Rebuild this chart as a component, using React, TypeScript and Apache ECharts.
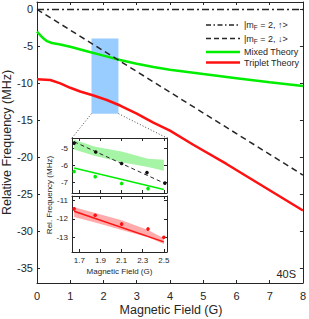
import React, { useEffect, useRef } from "react";
import * as echarts from "echarts";

// ---------- data ----------
const mainXTicks = [0, 1, 2, 3, 4, 5, 6, 7, 8];
const mainYTicks = [-35, -30, -25, -20, -15, -10, -5, 0];

const upX = [0, 8];
const upY = [0, 0];
const downX = [0, 8];
const downY = [0, -22.4];

const mixedX = [0, 0.1, 0.2, 0.3, 0.45, 0.7, 1.0, 1.5, 2.0, 2.5, 3.0, 3.5, 4, 5, 6, 7, 8];
const mixedY = [-3.0, -3.5, -3.95, -4.3, -4.55, -4.75, -5.05, -5.65, -6.25, -6.85, -7.35, -7.8, -8.15, -8.75, -9.3, -9.85, -10.35];

const tripletX = [0, 0.4, 0.7, 1.0, 1.3, 1.7, 2.1, 2.5, 3.0, 3.5, 4.0, 4.7, 5.7, 8];
const tripletY = [-9.45, -9.55, -10.0, -10.6, -11.1, -11.65, -12.25, -13.0, -14.1, -15.3, -16.4, -18.3, -20.9, -27.2];

const zoomBoxX = [1.64, 2.45];
const zoomBoxY = [-14.1, -3.95];

const insetXTicks = [1.7, 1.9, 2.1, 2.3, 2.5];
const insetTopYTicks = [-7, -6, -5];
const insetBotYTicks = [-13, -12, -11];

// inset top
const bandGX = [1.65, 1.85, 2.1, 2.35, 2.5];
const bandGUp = [-4.5, -4.92, -5.2, -5.62, -5.68];
const bandGLo = [-5.08, -5.45, -5.82, -6.1, -6.32];

const fitGX = [1.65, 2.5];
const fitGY = [-6.16, -7.43];

const ptsGX = [1.65, 1.85, 2.1, 2.35];
const ptsGY = [-6.37, -6.67, -7.07, -7.37];
const ptsGErr = [0.1, 0.09, 0.1, 0.1];

const dashInX = [1.65, 2.52];
const dashInY = [-4.62, -7.1];

const ptsKX = [1.65, 1.855, 2.1, 2.34, 2.51];
const ptsKY = [-4.7, -5.22, -5.9, -6.43, -7.05];

// inset bottom
const bandRX = [1.65, 1.85, 2.1, 2.35, 2.5];
const bandRUp = [-11.36, -11.68, -12.07, -12.6, -13.05];
const bandRLo = [-11.9, -12.2, -12.6, -13.0, -13.37];

const fitRX = [1.65, 2.5];
const fitRY = [-11.58, -13.25];

const ptsRX = [1.65, 1.85, 2.1, 2.35, 2.5];
const ptsRY = [-11.45, -11.8, -12.28, -12.55, -13.0];
const ptsRErr = [0.1, 0.08, 0.1, 0.1, 0.06];

// ---------- style ----------
const AX = "#262626";
const FONT = "Liberation Sans, Arial, sans-serif";
const GREEN = "#00ee00";
const RED = "#ff1111";

const zip = (xs: number[], ys: number[]) => xs.map((x, i) => [x, ys[i]]);

function axis(opts: any) {
  const { gridIndex, position, min, max, ticks, labels, fontSize, margin, z, fmt } = opts;
  return {
    type: "value",
    gridIndex,
    position,
    min,
    max,
    z: z || 0,
    axisLine: { show: true, onZero: false, lineStyle: { color: AX, width: 1 } },
    axisTick: { show: true, inside: true, length: 3, customValues: ticks, lineStyle: { color: AX, width: 1 } },
    axisLabel: {
      show: !!labels,
      customValues: ticks,
      fontSize: fontSize || 11,
      color: AX,
      fontFamily: FONT,
      margin: margin ?? 6,
      formatter: fmt,
    },
    splitLine: { show: false },
  };
}

function bandSeries(xi: number, yi: number, xs: number[], up: number[], lo: number[], color: string) {
  return {
    type: "custom",
    xAxisIndex: xi,
    yAxisIndex: yi,
    z: 7,
    silent: true,
    data: xs.map((x, i) => [x, up[i], lo[i]]),
    encode: { x: 0, y: 1 },
    renderItem: (params: any, api: any) => {
      if (params.dataIndex !== 0) return null;
      const pts: number[][] = [];
      xs.forEach((x, i) => pts.push(api.coord([x, up[i]])));
      for (let i = xs.length - 1; i >= 0; i--) pts.push(api.coord([xs[i], lo[i]]));
      return { type: "polygon", shape: { points: pts }, style: { fill: color } };
    },
  };
}

function errSeries(xi: number, yi: number, xs: number[], ys: number[], es: number[], color: string) {
  return {
    type: "custom",
    xAxisIndex: xi,
    yAxisIndex: yi,
    z: 9,
    silent: true,
    data: xs.map((x, i) => [x, ys[i], es[i]]),
    encode: { x: 0, y: 1 },
    renderItem: (params: any, api: any) => {
      const x = api.value(0), y = api.value(1), e = api.value(2);
      const p = api.coord([x, y]);
      const a = api.coord([x, y + e]);
      const b = api.coord([x, y - e]);
      return {
        type: "group",
        children: [
          { type: "line", shape: { x1: a[0], y1: a[1], x2: b[0], y2: b[1] }, style: { stroke: color, lineWidth: 1 } },
          { type: "circle", shape: { cx: p[0], cy: p[1], r: 1.8 }, style: { fill: color } },
        ],
      };
    },
  };
}

function lineSeries(xi: number, yi: number, data: number[][], color: string, width: number, dash: any, z: number, extra?: any) {
  return {
    type: "line",
    xAxisIndex: xi,
    yAxisIndex: yi,
    data,
    z,
    smooth: false,
    showSymbol: false,
    symbol: "none",
    silent: true,
    lineStyle: { color, width, type: dash || "solid" },
    ...(extra || {}),
  };
}

export default function App() {
  const ref = useRef<HTMLDivElement>(null);
  useEffect(() => {
    if (!ref.current) return;
    const chart = echarts.init(ref.current, undefined, { renderer: "svg" });

    const insetXMin = 1.63, insetXMax = 2.53;
    const topYMin = -7.63, topYMax = -4.4;
    const botYMin = -13.8, botYMax = -10.75;

    const fmt1 = (v: number) => v.toFixed(1);

    const legendRows = [
      { y: 25, dash: [5, 2.5, 1.5, 2.5], color: AX, w: 1.5, rich: true, text: "|m{s|F} = 2, ↑>" },
      { y: 38.5, dash: [5, 3], color: AX, w: 1.5, rich: true, text: "|m{s|F} = 2, ↓>" },
      { y: 52, dash: null, color: GREEN, w: 2.5, rich: false, text: "Mixed Theory" },
      { y: 62.5, dash: null, color: RED, w: 2.5, rich: false, text: "Triplet Theory" },
    ];

    const legendGraphics: any[] = [];
    legendRows.forEach((r, i) => {
      legendGraphics.push({
        type: "line",
        id: "lgl" + i,
        z: 20,
        shape: { x1: 206, y1: r.y, x2: 240, y2: r.y },
        style: { stroke: r.color, lineWidth: r.w, lineDash: r.dash || undefined },
      });
      legendGraphics.push({
        type: "text",
        id: "lgt" + i,
        z: 20,
        x: 244,
        y: r.y,
        style: {
          text: r.text,
          fontSize: 9,
          fontFamily: FONT,
          fill: AX,
          verticalAlign: "middle",
          align: "left",
          rich: {
            s: { fontSize: 6.5, fontFamily: FONT, fill: AX, padding: [5, 0, 0, 0] },
          },
        },
      });
    });

    const textGraphics = [
      {
        type: "text", z: 20, x: 7, y: 142.5, rotation: Math.PI / 2,
        style: { text: "Relative Frequency (MHz)", fontSize: 12.5, fontFamily: FONT, fill: AX, align: "center", verticalAlign: "middle" },
      },
      {
        type: "text", z: 20, x: 171, y: 310,
        style: { text: "Magnetic Field (G)", fontSize: 12.5, fontFamily: FONT, fill: AX, align: "center", verticalAlign: "middle" },
      },
      {
        type: "text", z: 20, x: 296, y: 274,
        style: { text: "40S", fontSize: 11, fontFamily: FONT, fill: AX, align: "right", verticalAlign: "middle" },
      },
      {
        type: "text", z: 20, x: 49, y: 195, rotation: Math.PI / 2,
        style: { text: "Rel. Frequency (MHz)", fontSize: 8, fontFamily: FONT, fill: AX, align: "center", verticalAlign: "middle" },
      },
      {
        type: "text", z: 20, x: 119.5, y: 271.5,
        style: { text: "Magnetic Field (G)", fontSize: 8, fontFamily: FONT, fill: AX, align: "center", verticalAlign: "middle" },
      },
    ];

    const option: any = {
      animation: false,
      backgroundColor: "#fff",
      grid: [
        { left: 37, top: 2, width: 268, height: 281, show: false },
        { left: 72, top: 138, width: 95, height: 55, show: true, backgroundColor: "#fff", borderWidth: 0, z: 5 },
        { left: 72, top: 196, width: 95, height: 56, show: true, backgroundColor: "#fff", borderWidth: 0, z: 5 },
      ],
      xAxis: [
        axis({ gridIndex: 0, position: "bottom", min: 0, max: 8, ticks: mainXTicks, labels: true, fontSize: 11, margin: 7 }),
        axis({ gridIndex: 0, position: "top", min: 0, max: 8, ticks: mainXTicks, labels: false }),
        axis({ gridIndex: 1, position: "bottom", min: insetXMin, max: insetXMax, ticks: insetXTicks, labels: false, z: 6 }),
        axis({ gridIndex: 1, position: "top", min: insetXMin, max: insetXMax, ticks: insetXTicks, labels: false, z: 6 }),
        axis({ gridIndex: 2, position: "bottom", min: insetXMin, max: insetXMax, ticks: insetXTicks, labels: true, fontSize: 8, margin: 4, z: 6, fmt: fmt1 }),
        axis({ gridIndex: 2, position: "top", min: insetXMin, max: insetXMax, ticks: insetXTicks, labels: false, z: 6 }),
      ],
      yAxis: [
        axis({ gridIndex: 0, position: "left", min: -37, max: 1, ticks: mainYTicks, labels: true, fontSize: 11, margin: 4 }),
        axis({ gridIndex: 0, position: "right", min: -37, max: 1, ticks: mainYTicks, labels: false }),
        axis({ gridIndex: 1, position: "left", min: topYMin, max: topYMax, ticks: insetTopYTicks, labels: true, fontSize: 8, margin: 4, z: 6 }),
        axis({ gridIndex: 1, position: "right", min: topYMin, max: topYMax, ticks: insetTopYTicks, labels: false, z: 6 }),
        axis({ gridIndex: 2, position: "left", min: botYMin, max: botYMax, ticks: insetBotYTicks, labels: true, fontSize: 8, margin: 4, z: 6 }),
        axis({ gridIndex: 2, position: "right", min: botYMin, max: botYMax, ticks: insetBotYTicks, labels: false, z: 6 }),
      ],
      series: [
        lineSeries(0, 0, zip(upX, upY), AX, 1.5, [7, 3, 2, 3], 1, {
          markArea: {
            silent: true,
            itemStyle: { color: "#99ccff", opacity: 1 },
            data: [[{ coord: [zoomBoxX[0], zoomBoxY[1]] }, { coord: [zoomBoxX[1], zoomBoxY[0]] }]],
          },
        }),
        lineSeries(0, 0, zip(mixedX, mixedY), GREEN, 2.5, null, 3),
        lineSeries(0, 0, zip(tripletX, tripletY), RED, 2.5, null, 3),
        lineSeries(0, 0, zip(downX, downY), AX, 1.5, [6, 4], 4),

        bandSeries(2, 2, bandGX, bandGUp, bandGLo, "#a6f5a6"),
        lineSeries(2, 2, zip(fitGX, fitGY), GREEN, 1.5, null, 8),
        lineSeries(2, 2, zip(dashInX, dashInY), AX, 1, [4, 3], 8),
        errSeries(2, 2, ptsGX, ptsGY, ptsGErr, GREEN),
        errSeries(2, 2, ptsKX, ptsKY, ptsKX.map(() => 0.03), "#111"),

        bandSeries(4, 4, bandRX, bandRUp, bandRLo, "#ffabab"),
        lineSeries(4, 4, zip(fitRX, fitRY), RED, 1.5, null, 8),
        errSeries(4, 4, ptsRX, ptsRY, ptsRErr, RED),
      ],
      graphic: [...legendGraphics, ...textGraphics],
    };

    chart.setOption(option);

    // connector dotted lines from zoom box to inset
    const bl = chart.convertToPixel({ xAxisIndex: 0, yAxisIndex: 0 }, [zoomBoxX[0], zoomBoxY[0]]) as number[];
    const br = chart.convertToPixel({ xAxisIndex: 0, yAxisIndex: 0 }, [zoomBoxX[1], zoomBoxY[0]]) as number[];
    const tl = chart.convertToPixel({ xAxisIndex: 2, yAxisIndex: 2 }, [insetXMin, topYMax]) as number[];
    const tr = chart.convertToPixel({ xAxisIndex: 2, yAxisIndex: 2 }, [insetXMax, topYMax]) as number[];
    chart.setOption({
      graphic: [
        ...legendGraphics,
        ...textGraphics,
        { type: "line", z: 15, shape: { x1: bl[0], y1: bl[1], x2: tl[0], y2: tl[1] }, style: { stroke: "#444", lineWidth: 1, lineDash: [1, 2] } },
        { type: "line", z: 15, shape: { x1: br[0], y1: br[1], x2: tr[0], y2: tr[1] }, style: { stroke: "#444", lineWidth: 1, lineDash: [1, 2] } },
      ],
    }, { replaceMerge: ["graphic"] });

    return () => chart.dispose();
  }, []);

  return <div ref={ref} style={{ position: "fixed", left: 0, top: 0, width: 309, height: 319 }} />;
}
